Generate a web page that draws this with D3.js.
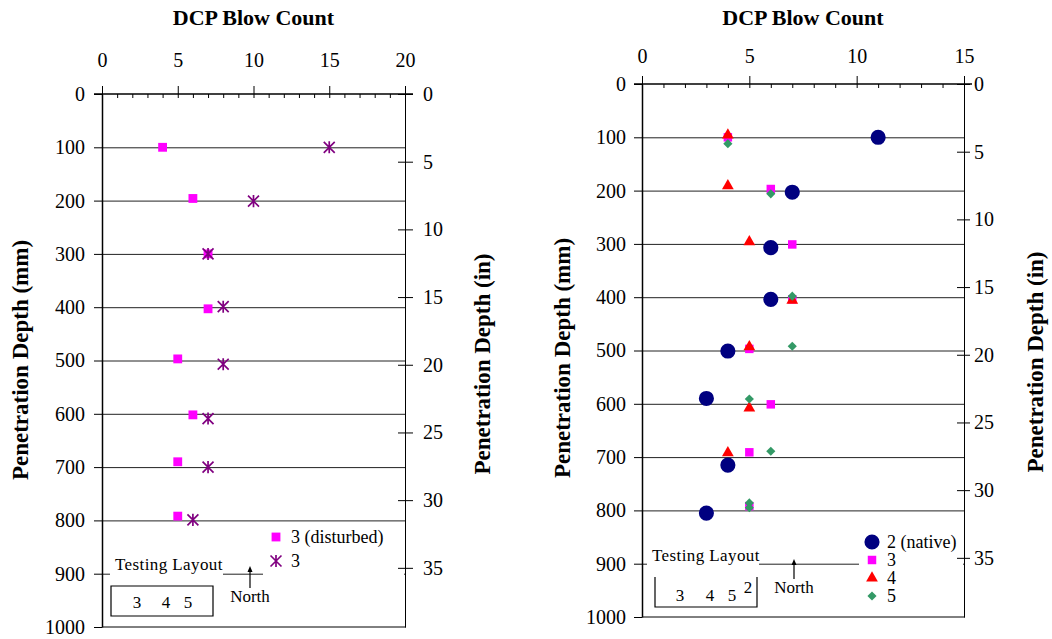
<!DOCTYPE html>
<html>
<head>
<meta charset="utf-8">
<script src="https://cdn.jsdelivr.net/npm/d3@7"></script>
<style>
  body { margin: 0; background: #fff; }
  svg text { font-family: "Liberation Serif", "Times New Roman", serif; fill: #000; }
</style>
</head>
<body>
<div id="chart"></div>
<script>
// Shared depth axis ticks (mm) and inch ticks
const depthTicks = d3.range(0, 1001, 100);
const gridDepths = d3.range(100, 901, 100);
const inchTicks = d3.range(0, 36, 5);

// Left chart: test pit 3
const disturbedDepth = [100, 196, 300, 403, 497, 602, 690, 792];
const disturbedBlows = [4, 6, 7, 7, 5, 6, 5, 5];
const pit3Depth = [100, 201, 300, 399, 507, 609, 700, 799];
const pit3Blows = [15, 10, 7, 8, 8, 7, 7, 6];

// Right chart: pits 2 (native), 3, 4, 5
const nativeDepth = [100, 203, 307, 404, 501, 590, 715, 805];
const nativeBlows = [11, 7, 6, 6, 4, 3, 4, 3];
const s3Depth = [100, 197, 301, 404, 497, 601, 691, 792];
const s3Blows = [4, 6, 7, 7, 5, 6, 5, 5];
const s4Depth = [96, 191, 296, 406, 493, 608, 692];
const s4Blows = [4, 4, 5, 7, 5, 5, 4];
const s5Depth = [112, 206, 398, 492, 591, 689, 786, 795];
const s5Blows = [4, 6, 7, 7, 5, 6, 5, 5];

const leftLayoutNums = ["3", "4", "5"];
const rightLayoutNums = ["3", "4", "5", "2"];

// asterisk marker (X with a vertical bar)
const symbolStar = {
  draw(ctx, size) {
    const r = Math.sqrt(size) / 2;
    ctx.moveTo(-r, -r); ctx.lineTo(r, r);
    ctx.moveTo(-r, r); ctx.lineTo(r, -r);
    ctx.moveTo(0, -r * 1.1); ctx.lineTo(0, r * 1.1);
  }
};

const markers = {
  square: {type: d3.symbolSquare, size: 78, fill: "#ff00ff"},
  star: {type: symbolStar, size: 120, stroke: "#800080"},
  circle: {type: d3.symbolCircle, size: 180, fill: "#000080"},
  mag: {type: d3.symbolSquare, size: 72, fill: "#ff00ff"},
  tri: {type: d3.symbolTriangle, size: 60, fill: "#ff0000"},
  diamond: {type: d3.symbolSquare, size: 42, fill: "#339966", rotate: 45}
};

const svg = d3.select("#chart").append("svg")
    .attr("width", 1052)
    .attr("height", 639);

function drawMarker(sel, m) {
  sel.attr("d", d3.symbol(m.type, m.size)())
    .attr("fill", m.fill || "none")
    .attr("stroke", m.stroke || "none")
    .attr("stroke-width", m.stroke ? 1.7 : 0);
}

function drawPanel(p) {
  const x = d3.scaleLinear().domain([0, p.xMax]).range([p.x0, p.x1]);
  const y = d3.scaleLinear().domain([0, 1000]).range([p.y0, p.y1]);
  const yIn = d3.scaleLinear().domain([0, 1000 / 25.4]).range([p.y0, p.y1]);
  const g = svg.append("g");

  const styleAxis = a => a.attr("font-size", 20)
      .attr("font-family", "Liberation Serif, Times New Roman, serif")
      .call(s => s.selectAll("line,path").attr("stroke", "#000"));

  // horizontal gridlines
  g.append("g")
      .attr("transform", `translate(${p.x0},0)`)
      .call(d3.axisRight(y).tickValues(gridDepths).tickSize(p.x1 - p.x0).tickFormat(""))
      .call(a => a.select(".domain").remove())
      .selectAll("line").attr("stroke", "#222");

  // bottom border
  g.append("line")
      .attr("x1", p.x0).attr("x2", p.x1)
      .attr("y1", y(1000)).attr("y2", y(1000))
      .attr("stroke", "#000");

  // left depth axis (mm)
  g.append("g")
      .attr("transform", `translate(${p.x0},0)`)
      .call(d3.axisLeft(y).tickValues(depthTicks).tickFormat(d3.format("d"))
        .tickSize(8).tickSizeOuter(0).tickPadding(p.yPad))
      .call(styleAxis)
      .select(".domain").attr("stroke-width", 1.5);

  // right depth axis (in), ticks crossing
  g.append("g")
      .attr("transform", `translate(${p.x1},0)`)
      .call(d3.axisRight(yIn).tickValues(inchTicks).tickFormat(d3.format("d"))
        .tickSize(p.rTick).tickSizeOuter(0).tickPadding(p.rPad))
      .call(styleAxis);
  g.append("g")
      .attr("transform", `translate(${p.x1},0)`)
      .call(d3.axisLeft(yIn).tickValues(inchTicks).tickSize(7).tickSizeOuter(0).tickFormat(""))
      .call(styleAxis);

  // top blow-count axis
  g.append("g")
      .attr("transform", `translate(0,${p.y0})`)
      .call(d3.axisTop(x).tickValues(p.xTicks).tickFormat(d3.format("d"))
        .tickSize(8).tickSizeOuter(0).tickPadding(p.xPad))
      .call(styleAxis)
      .call(a => a.select(".domain").remove());
  g.append("g")
      .attr("transform", `translate(0,${p.y0})`)
      .call(d3.axisBottom(x).tickValues(d3.range(0, p.xMax + 1)).tickSize(4).tickSizeOuter(0).tickFormat(""))
      .call(styleAxis)
      .call(a => a.select(".domain").remove());
  g.append("line")
      .attr("x1", p.x0 - 8).attr("x2", p.x1 + 8)
      .attr("y1", p.y0).attr("y2", p.y0)
      .attr("stroke", "#000").attr("stroke-width", 1.5);

  // titles
  g.append("text")
      .attr("x", (p.x0 + p.x1) / 2).attr("y", 25)
      .attr("text-anchor", "middle")
      .attr("font-size", 22).attr("font-weight", "bold")
      .text("DCP Blow Count");
  g.append("text")
      .attr("transform", `translate(${p.mmTitle[0]},${p.mmTitle[1]}) rotate(-90)`)
      .attr("text-anchor", "middle").attr("dy", "0.35em")
      .attr("font-size", 23).attr("font-weight", "bold")
      .text("Penetration Depth (mm)");
  g.append("text")
      .attr("transform", `translate(${p.inTitle[0]},${p.inTitle[1]}) rotate(-90)`)
      .attr("text-anchor", "middle").attr("dy", "0.35em")
      .attr("font-size", 23).attr("font-weight", "bold")
      .text("Penetration Depth (in)");

  // testing layout annotation (white box hides the 900 gridline)
  const L = p.layout;
  g.append("rect")
      .attr("x", L.tx - 5).attr("y", y(900) - 6)
      .attr("width", L.lineStart - L.tx + 4).attr("height", 14)
      .attr("fill", "#fff");
  g.append("text")
      .attr("x", L.tx).attr("y", L.ty)
      .attr("font-size", 17).attr("letter-spacing", 0.4)
      .text("Testing Layout");
  const bx = L.box;
  g.append("path")
      .attr("d", L.openTop
        ? `M${bx[0]},${bx[1]}V${bx[3]}H${bx[2]}V${bx[1]}`
        : `M${bx[0]},${bx[1]}V${bx[3]}H${bx[2]}V${bx[1]}Z`)
      .attr("fill", "none").attr("stroke", "#000").attr("stroke-width", 1.2);
  g.selectAll(null)
      .data(L.nums)
      .join("text")
      .attr("x", (d, i) => L.numX[i]).attr("y", (d, i) => L.numY[i])
      .attr("text-anchor", "middle").attr("font-size", 17)
      .text(d => d);
  g.append("line")
      .attr("x1", L.ax).attr("x2", L.ax)
      .attr("y1", L.ay[0] + 4).attr("y2", L.ay[1])
      .attr("stroke", "#000").attr("stroke-width", 1.2);
  g.append("path")
      .attr("d", `M${L.ax},${L.ay[0]}l-2.5,6h5z`)
      .attr("fill", "#000");
  g.append("text")
      .attr("x", L.ax).attr("y", L.northY)
      .attr("text-anchor", "middle").attr("font-size", 17)
      .text("North");

  // legend
  const lg = p.legend;
  g.append("rect")
      .attr("x", lg.bx).attr("y", y(900) - 3)
      .attr("width", p.x1 - lg.bx - 1).attr("height", 6)
      .attr("fill", "#fff");
  lg.items.forEach((it, i) => {
    const yy = lg.y0 + i * lg.dy;
    g.append("path")
        .attr("transform", `translate(${lg.mx},${yy})` + (markers[it.m].rotate ? " rotate(45)" : ""))
        .call(drawMarker, markers[it.m]);
    g.append("text")
        .attr("x", lg.tx).attr("y", yy).attr("dy", "0.33em")
        .attr("font-size", 18)
        .text(it.label);
  });

  // data marks
  p.series.forEach(s => {
    const m = markers[s.m];
    g.append("g").selectAll("path")
        .data(d3.zip(s.depth, s.blows))
        .join("path")
        .attr("transform", d => `translate(${x(d[1])},${y(d[0])})` + (m.rotate ? " rotate(45)" : ""))
        .call(drawMarker, m);
  });
}

drawPanel({
  x0: 102, x1: 405, y0: 94, y1: 627, xMax: 20, xTicks: [0, 5, 10, 15, 20],
  yPad: 9, xPad: 19, rTick: 8, rPad: 10,
  mmTitle: [20, 360], inTitle: [482, 364],
  series: [
    {m: "square", depth: disturbedDepth, blows: disturbedBlows},
    {m: "star", depth: pit3Depth, blows: pit3Blows}
  ],
  legend: {bx: 263, mx: 276, tx: 291, y0: 537, dy: 24,
    items: [{m: "square", label: "3 (disturbed)"}, {m: "star", label: "3"}]},
  layout: {tx: 115, ty: 570, lineStart: 224, box: [111, 586, 213, 616], openTop: false,
    nums: leftLayoutNums, numX: [137, 166, 188], numY: [608, 608, 608],
    ax: 250, ay: [566, 588], northY: 602}
});

drawPanel({
  x0: 642, x1: 964, y0: 84, y1: 617, xMax: 15, xTicks: [0, 5, 10, 15],
  yPad: 8, xPad: 13, rTick: 6, rPad: 4,
  mmTitle: [562, 358], inTitle: [1035, 362],
  series: [
    {m: "circle", depth: nativeDepth, blows: nativeBlows},
    {m: "mag", depth: s3Depth, blows: s3Blows},
    {m: "tri", depth: s4Depth, blows: s4Blows},
    {m: "diamond", depth: s5Depth, blows: s5Blows}
  ],
  legend: {bx: 859, mx: 872, tx: 887, y0: 542, dy: 18,
    items: [{m: "circle", label: "2 (native)"}, {m: "mag", label: "3"},
            {m: "tri", label: "4"}, {m: "diamond", label: "5"}]},
  layout: {tx: 652, ty: 561, lineStart: 760, box: [655, 577, 757, 607], openTop: true,
    nums: rightLayoutNums, numX: [680, 710, 732, 748], numY: [601, 601, 601, 593],
    ax: 794, ay: [559, 579], northY: 593}
});
</script>
</body>
</html>
